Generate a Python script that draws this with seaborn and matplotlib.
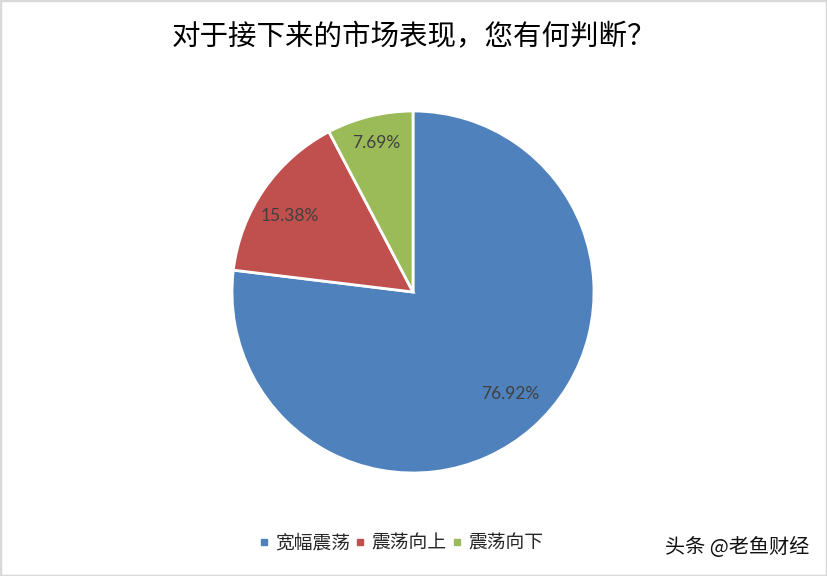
import matplotlib
matplotlib.use("Agg")
import matplotlib.pyplot as plt
import seaborn as sns
import numpy as np
from matplotlib.lines import Line2D
from matplotlib.patches import Rectangle

title = "对于接下来的市场表现，您有何判断？"
categories = ["宽幅震荡", "震荡向上", "震荡向下"]
shares = [76.92, 15.38, 7.69]
pct_labels = ["76.92%", "15.38%", "7.69%"]
colors = ["#4F81BD", "#C0504D", "#9BBB59"]
watermark = "头条 @老鱼财经"

sns.set_theme(style="white")
plt.rcParams["font.family"] = ["Noto Sans CJK SC", "DejaVu Sans"]

W, H = 827, 576
fig = plt.figure(figsize=(W / 100, H / 100), dpi=100)
fig.patch.set_facecolor("white")

cx, cy, R = 413, 292, 181
ax = fig.add_axes([(cx - R) / W, (H - cy - R) / H, 2 * R / W, 2 * R / H])
pal = sns.color_palette(colors)
wedges, _ = ax.pie(shares, colors=pal, startangle=90, counterclock=False,
                   radius=1, wedgeprops=dict(edgecolor="white", linewidth=2))
ax.set_xlim(-1, 1)
ax.set_ylim(-1, 1)
ax.set_aspect("equal")
ax.axis("off")

dists = [0.78, 0.80, 0.85]
offsets = [2, 3, 0]
for w, lab, d, o in zip(wedges, pct_labels, dists, offsets):
    ang = np.deg2rad((w.theta1 + w.theta2) / 2 + o)
    ax.text(d * np.cos(ang), d * np.sin(ang), lab, ha="center", va="center",
            fontsize=12.5, color="#404040", family=["Lato", "DejaVu Sans"])

fig.text(0.5, 1 - 37 / H, title, ha="center", va="center", fontsize=20.5,
         color="black")

handles = [Line2D([0], [0], marker="s", linestyle="none", markersize=5,
                  markerfacecolor=c, markeredgecolor=c) for c in colors]
fig.legend(handles, categories, loc="center", bbox_to_anchor=(401 / W, 1 - 543 / H),
           ncol=3, frameon=False, fontsize=13.5, handlelength=0.5,
           handletextpad=0.35, columnspacing=0.3)

fig.text(809 / W, 1 - 547 / H, watermark, ha="right", va="center", fontsize=14.5,
         color="#111111")

fig.patches.append(Rectangle((0, 0), 1, 1, transform=fig.transFigure,
                             fill=False, edgecolor="#D9D9D9", linewidth=2.5))

fig.savefig("out.png", dpi=100)
